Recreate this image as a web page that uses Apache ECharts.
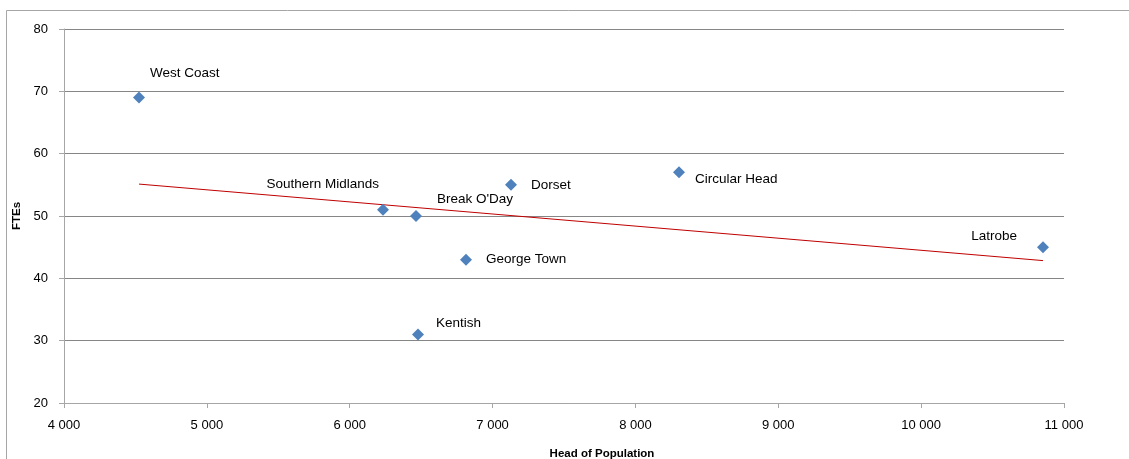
<!DOCTYPE html>
<html>
<head>
<meta charset="utf-8">
<style>
  html, body { margin: 0; padding: 0; background: #ffffff; overflow: hidden; }
  #chart { width: 1129px; height: 459px; }
</style>
<script src="https://cdn.jsdelivr.net/npm/echarts@6/dist/echarts.min.js"></script>
</head>
<body>
<div id="chart"></div>
<script>
// Councils: population head count versus FTEs
const councils   = ['West Coast', 'Southern Midlands', "Break O'Day", 'George Town', 'Kentish', 'Dorset', 'Circular Head', 'Latrobe'];
const population = [4525, 6233, 6464, 6814, 6478, 7129, 8305, 10853];
const ftes       = [69, 51, 50, 43, 31, 55, 57, 45];

const xTicks = [4000, 5000, 6000, 7000, 8000, 9000, 10000, 11000];
const yTicks = [20, 30, 40, 50, 60, 70, 80];

// Label placement per council (styling only)
const labelPlacement = {
  'West Coast':        { position: 'right', offset: [0, -24] },
  'Southern Midlands': { position: 'left',  offset: [7, -25] },
  "Break O'Day":       { position: 'right', offset: [10, -17] },
  'George Town':       { position: 'right', offset: [9, 0] },
  'Kentish':           { position: 'right', offset: [7, -11] },
  'Dorset':            { position: 'right', offset: [9, 0] },
  'Circular Head':     { position: 'right', offset: [5, 7] },
  'Latrobe':           { position: 'left',  offset: [-15, -11] }
};

// Least-squares linear trend over the data range
function linearTrend(xs, ys) {
  const n = xs.length;
  const mx = xs.reduce((a, b) => a + b, 0) / n;
  const my = ys.reduce((a, b) => a + b, 0) / n;
  let sxy = 0, sxx = 0;
  for (let i = 0; i < n; i++) {
    sxy += (xs[i] - mx) * (ys[i] - my);
    sxx += (xs[i] - mx) * (xs[i] - mx);
  }
  const slope = sxy / sxx;
  const lo = Math.min(...xs), hi = Math.max(...xs);
  return [[lo, my + slope * (lo - mx)], [hi, my + slope * (hi - mx)]];
}

const fontFamily = '"Liberation Sans", "DejaVu Sans", sans-serif';
const fmtThousands = v => String(v).replace(/\B(?=(\d{3})+(?!\d))/g, ' ');

const points = councils.map((name, i) => ({
  name: name,
  value: [population[i], ftes[i]],
  label: Object.assign({ show: true, formatter: '{b}', distance: 5 }, labelPlacement[name])
}));

const chart = echarts.init(document.getElementById('chart'), null, { renderer: 'canvas' });
chart.setOption({
  animation: false,
  backgroundColor: '#ffffff',
  textStyle: { fontFamily: fontFamily },
  graphic: [{
    type: 'rect',
    shape: { x: 6.5, y: 10.5, width: 1200, height: 500 },
    style: { fill: 'none', stroke: '#a6a6a6', lineWidth: 1 },
    silent: true
  }],
  grid: { left: 64, right: 65, top: 29, bottom: 56, containLabel: false, outerBoundsMode: 'none' },
  xAxis: {
    type: 'value',
    min: xTicks[0],
    max: xTicks[xTicks.length - 1],
    interval: 1000,
    name: 'Head of Population',
    nameLocation: 'middle',
    nameGap: 45,
    nameTextStyle: { fontWeight: 'bold', fontSize: 11.5, color: '#000', padding: [0, 0, 0, 76] },
    axisLine: { show: true, lineStyle: { color: '#a6a6a6', width: 1 } },
    axisTick: { show: true, length: 5, inside: false, lineStyle: { color: '#a6a6a6' } },
    axisLabel: { color: '#000', fontSize: 13, margin: 16, formatter: fmtThousands },
    splitLine: { show: false }
  },
  yAxis: {
    type: 'value',
    min: yTicks[0],
    max: yTicks[yTicks.length - 1],
    interval: 10,
    name: 'FTEs',
    nameLocation: 'middle',
    nameGap: 36,
    nameRotate: 90,
    nameTextStyle: { fontWeight: 'bold', fontSize: 11.5, color: '#000' },
    axisLine: { show: true, lineStyle: { color: '#a6a6a6', width: 1 } },
    axisTick: { show: true, length: 5, inside: false, lineStyle: { color: '#a6a6a6' } },
    axisLabel: { color: '#000', fontSize: 13, margin: 16 },
    splitLine: { show: true, lineStyle: { color: '#868686', width: 1 } }
  },
  series: [
    {
      type: 'scatter',
      symbol: 'diamond',
      symbolSize: 12,
      itemStyle: { color: '#4f81bd', opacity: 1 },
      label: { color: '#000', fontSize: 13.5, fontFamily: fontFamily },
      data: points,
      z: 3
    },
    {
      type: 'line',
      data: linearTrend(population, ftes),
      symbol: 'none',
      lineStyle: { color: '#c00000', width: 1 },
      z: 2
    }
  ]
});
</script>
</body>
</html>
